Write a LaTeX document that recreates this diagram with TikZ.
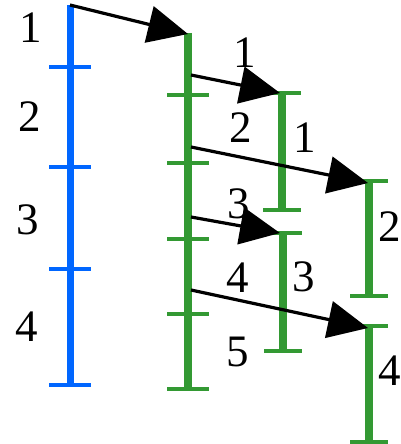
\documentclass[tikz,border=0pt]{standalone}
\usepackage{fontspec}
\setmainfont{Liberation Serif}
\usetikzlibrary{arrows.meta}
\definecolor{barblue}{RGB}{0,102,255}
\definecolor{bargreen}{RGB}{51,153,51}

\begin{document}
\begin{tikzpicture}[x=1pt, y=-1pt, >={Triangle[length=40pt,width=37pt]}, line width=3.2pt,
    num/.style={font=\fontsize{45}{45}\selectfont, inner sep=0pt},
    bluebar/.style={draw=barblue, line width=7pt},
    bluetick/.style={draw=barblue, line width=3.5pt},
    greenbar/.style={draw=bargreen, line width=8pt},
    greentick/.style={draw=bargreen, line width=3.5pt}]
    \useasboundingbox (0,0) rectangle (400,444);

    % blue bar
    \coordinate (btop) at (70,5);
    \coordinate (bbot) at (70,385);
    \draw[bluebar] (btop) -- (bbot);
    \foreach \y in {67,167,269,385}
        \draw[bluetick] (49,\y) -- (91,\y);

    % green bar
    \coordinate (gtop) at (188,33);
    \coordinate (gbot) at (188,389);
    \draw[greenbar] (gtop) -- (gbot);
    \foreach \y in {95,163,239,314,389}
        \draw[greentick] (167,\y) -- (209,\y);

    % short green bars
    \coordinate (atop) at (282,93);
    \coordinate (abot) at (282,210);
    \coordinate (btop2) at (369,181);
    \coordinate (bbot2) at (369,296);
    \coordinate (ctop) at (283,233);
    \coordinate (cbot) at (283,351);
    \coordinate (dtop) at (369,326);
    \coordinate (dbot) at (369,442);
    \draw[greenbar] (atop) -- (abot);
    \draw[greenbar] (btop2) -- (bbot2);
    \draw[greenbar] (ctop) -- (cbot);
    \draw[greenbar] (dtop) -- (dbot);
    \foreach \p in {atop,abot,btop2,bbot2,ctop,cbot,dtop,dbot}
        \draw[greentick] ([xshift=-19pt]\p) -- ([xshift=19pt]\p);

    % labels
    \node[num] (b1) at (31,28)  {1};
    \node[num] (b2) at (30,117) {2};
    \node[num] (b3) at (28,220) {3};
    \node[num] (b4) at (27,327) {4};
    \node[num] (g1) at (245,53)  {1};
    \node[num] (g2) at (241,128) {2};
    \node[num] (g3) at (239,204) {3};
    \node[num] (g4) at (238,278) {4};
    \node[num] (g5) at (238,352) {5};
    \node[num] (s1) at (305,138) {1};
    \node[num] (s2) at (390,227) {2};
    \node[num] (s3) at (304,277) {3};
    \node[num] (s4) at (390,371) {4};

    % arrows
    \coordinate (f1) at (191,75);
    \coordinate (f2) at (191,147);
    \coordinate (f3) at (191,217);
    \coordinate (f4) at (191,290);
    \draw[->] (btop) -- ([yshift=-1pt]gtop);
    \draw[->] (f1) -- ([xshift=-2pt]atop);
    \draw[->] (f2) -- ([xshift=-1pt,yshift=-2pt]btop2);
    \draw[->] (f3) -- ([xshift=-3pt]ctop);
    \draw[->] (f4) -- ([xshift=-1pt,yshift=-2pt]dtop);
\end{tikzpicture}
\end{document}
